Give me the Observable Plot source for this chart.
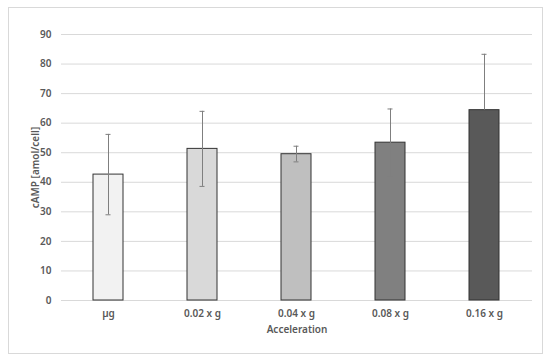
<!DOCTYPE html>
<html>
<head>
<meta charset="utf-8">
<script src="https://cdn.jsdelivr.net/npm/d3@7"></script>
<script src="https://cdn.jsdelivr.net/npm/@observablehq/plot@0.6"></script>
<style>
  html, body { margin: 0; padding: 0; background: #fff; }
  #wrap { position: relative; width: 550px; height: 362px; }
  #frame { position: absolute; left: 8px; top: 7px; width: 535px; height: 347px; border: 1px solid #d9d9d9; box-sizing: border-box; }
  #chart { position: absolute; left: 0; top: 0; }
</style>
</head>
<body>
<div id="wrap"><div id="frame"></div><div id="chart"></div></div>
<script>
const categories = ["µg", "0.02 x g", "0.04 x g", "0.08 x g", "0.16 x g"];
const means = [42.6, 51.3, 49.5, 53.4, 64.4];
// lower whisker of the last bar is not visible in the reference
const errLow = [29.0, 38.6, 46.9, 41.8, null];
const errHigh = [56.2, 64.0, 52.2, 64.8, 83.3];
const fills = ["#f2f2f2", "#d9d9d9", "#bfbfbf", "#808080", "#595959"];
const yTicks = [0, 10, 20, 30, 40, 50, 60, 70, 80, 90];

const data = categories.map((c, i) => ({cat: c, mean: means[i], lo: errLow[i], hi: errHigh[i], fill: fills[i]}));
const lowData = data.filter(d => d.lo != null);

const font = "'Noto Sans', sans-serif";
const chart = Plot.plot({
  width: 550,
  height: 362,
  marginLeft: 61,
  marginRight: 18,
  marginTop: 34,
  marginBottom: 62,
  style: {fontFamily: font, fontSize: "9.5px", color: "#595959", background: "transparent"},
  x: {domain: categories, paddingInner: 0.68, paddingOuter: 0.34},
  y: {domain: [0, 90]},
  marks: [
    Plot.gridY(yTicks, {stroke: "#d9d9d9", strokeOpacity: 1}),
    Plot.axisY(yTicks, {tickSize: 0, tickPadding: 10, fontWeight: 600, fontSize: 10, label: "cAMP [amol/cell]", labelAnchor: "center", labelOffset: 30, labelArrow: "none"}),
    Plot.axisX({tickSize: 0, tickPadding: 9, fontWeight: 600, fontSize: 10, label: "Acceleration", labelAnchor: "center", labelOffset: 32, labelArrow: "none"}),
    Plot.barY(data, {x: "cat", y: "mean", fill: "fill", stroke: "#333", strokeWidth: 1}),
    Plot.ruleX(data, {x: "cat", y1: d => d.lo ?? d.mean, y2: "hi", stroke: "#7f7f7f", strokeWidth: 1}),
    Plot.tickY(data, {x: "cat", y: "hi", stroke: "#7f7f7f", strokeWidth: 1, insetLeft: 12.5, insetRight: 12.5}),
    Plot.tickY(lowData, {x: "cat", y: "lo", stroke: "#7f7f7f", strokeWidth: 1, insetLeft: 12.5, insetRight: 12.5})
  ]
});
document.getElementById("chart").appendChild(chart);
</script>
</body>
</html>
